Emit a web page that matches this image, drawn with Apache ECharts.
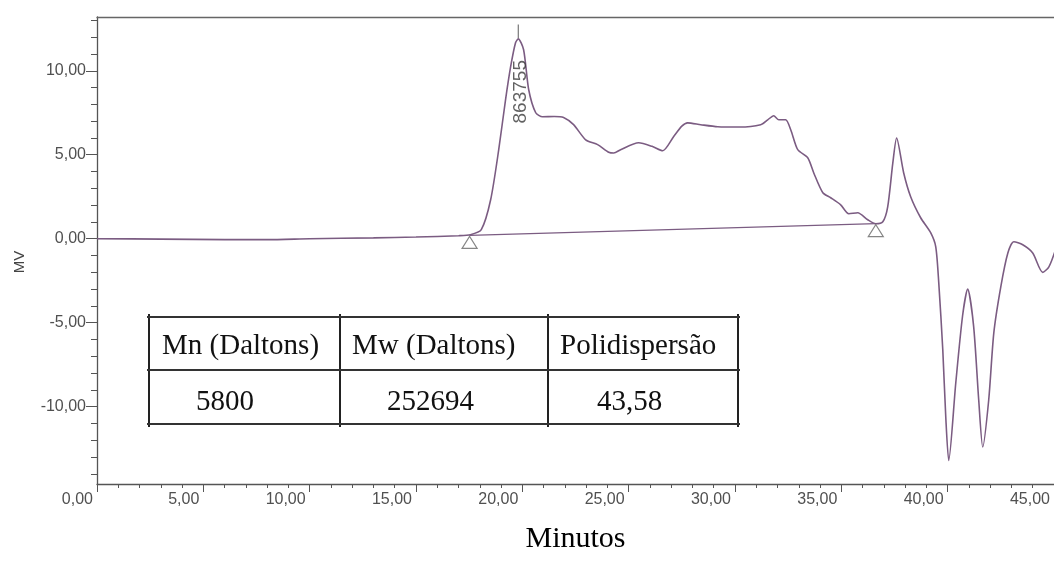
<!DOCTYPE html>
<html>
<head>
<meta charset="utf-8">
<script src="https://cdn.jsdelivr.net/npm/echarts@6/dist/echarts.min.js"></script>
<style>
  html, body { margin: 0; padding: 0; background: #fff; }
  #chart { width: 1054px; height: 570px; }
</style>
</head>
<body>
<div id="chart"></div>
<script>
var minutos = [0, 3, 6, 8, 10, 13, 15, 17, 17.56, 18.07, 18.51, 18.89, 19.21, 19.45, 19.68, 19.81,
  20.06, 20.3, 20.63, 20.95, 21.5, 21.94, 22.41, 22.98, 23.54, 24.06, 24.3, 24.62, 25.47, 26.1,
  26.6, 27.11, 27.5, 27.77, 28.39, 29.19, 30.2, 31.21, 31.54, 31.82, 32.06, 32.38, 32.62, 32.95,
  33.42, 33.7, 34.13, 34.5, 34.97, 35.35, 35.77, 36.24, 36.62, 36.95, 37.18, 37.42, 37.6, 37.93,
  38.26, 38.73, 39.2, 39.44, 39.58, 39.77, 39.91, 40.05, 40.38, 40.7, 40.94, 41.22, 41.46, 41.65,
  41.93, 42.17, 42.5, 42.83, 43.11, 43.53, 44.0, 44.47, 44.76, 45.04];
var mv = [0, -0.02, -0.05, -0.05, 0, 0.05, 0.1, 0.18, 0.24, 0.54, 2.32, 5.3, 8.27, 10.24, 11.67, 11.9,
  11.25, 8.87, 7.5, 7.26, 7.28, 7.22, 6.79, 5.89, 5.6, 5.15, 5.1, 5.3, 5.71, 5.5,
  5.24, 6.07, 6.7, 6.9, 6.79, 6.67, 6.65, 6.79, 7.08, 7.32, 7.08, 7.08, 6.49, 5.3,
  4.82, 3.93, 2.74, 2.44, 2.02, 1.49, 1.55, 1.13, 0.89, 1.01, 1.9, 4.5, 6.0, 3.93,
  2.5, 1.25, 0.36, -0.48, -2.6, -6.6, -10.6, -13.2, -8.6, -4.6, -3.0, -5.2, -9.6, -12.4,
  -9.6, -5.6, -2.85, -0.85, -0.18, -0.36, -0.85, -2.0, -1.67, -0.77];

// linha de base da integração
var baseX = [17.52, 36.62];
var baseY = [0.2, 0.9];

// pico marcado
var picoX = 19.81;
var picoY = 11.9;
var picoTexto = '863755';

var yMajor = [-10, -5, 0, 5, 10];
var yMinor = [-14, -13, -12, -11, -10, -9, -8, -7, -6, -5, -4, -3, -2, -1, 0,
  1, 2, 3, 4, 5, 6, 7, 8, 9, 10, 11, 12, 13];

// tabela
var cabecalho = ['Mn (Daltons)', 'Mw (Daltons)', 'Polidispersão'];
var valores = ['5800', '252694', '43,58'];

function fmt(v) {
  return v.toFixed(2).replace('.', ',');
}

var chart = echarts.init(document.getElementById('chart'));

var corLinha = '#7b5c82';
var corEixo = '#555';
var corTexto = '#505050';

var sinal = minutos.map(function (t, i) { return [t, mv[i]]; });
var base = baseX.map(function (t, i) { return [t, baseY[i]]; });

// células da tabela
var colX = [149, 340, 548, 738];
var rowY = [317, 370, 424];
var textoX1 = [162, 352, 560];
var textoX2 = [196, 387, 597];
var fonteTab = '29px "Liberation Serif"';
var tabela = [];
colX.forEach(function (x) {
  tabela.push({ type: 'line', shape: { x1: x, y1: rowY[0] - 3, x2: x, y2: rowY[2] + 3 },
    style: { stroke: '#222', lineWidth: 2 } });
});
rowY.forEach(function (y) {
  tabela.push({ type: 'line', shape: { x1: colX[0] - 2, y1: y, x2: colX[3] + 2, y2: y },
    style: { stroke: '#333', lineWidth: 2 } });
});
cabecalho.forEach(function (t, i) {
  tabela.push({ type: 'text', x: textoX1[i], y: 346,
    style: { text: t, fill: '#111', font: fonteTab, textVerticalAlign: 'middle' } });
});
valores.forEach(function (t, i) {
  tabela.push({ type: 'text', x: textoX2[i], y: 402,
    style: { text: t, fill: '#111', font: fonteTab, textVerticalAlign: 'middle' } });
});
tabela.push({ type: 'text', x: 20, y: 262, rotation: Math.PI / 2,
  style: { text: 'MV', fill: '#444', font: '15px "Liberation Sans"', align: 'center', verticalAlign: 'middle' } });

chart.setOption({
  backgroundColor: '#fff',
  animation: false,
  grid: { left: 97, right: 0, top: 17, bottom: 86 },
  xAxis: [
    {
      type: 'value',
      min: 0,
      max: 45,
      interval: 5,
      name: 'Minutos',
      nameLocation: 'middle',
      nameGap: 40,
      nameTextStyle: { fontFamily: 'Liberation Serif', fontSize: 30, color: '#000' },
      axisLine: { show: true, onZero: false, lineStyle: { color: corEixo, width: 1.3 } },
      axisTick: { show: true, length: 8, lineStyle: { color: corEixo } },
      minorTick: { show: true, splitNumber: 5, length: 4, lineStyle: { color: corEixo } },
      splitLine: { show: false },
      axisLabel: {
        formatter: fmt, align: 'right', margin: 8, padding: [0, 4, 0, 0],
        fontFamily: 'Liberation Sans', fontSize: 16, color: corTexto
      }
    },
    {
      type: 'value', position: 'top', min: 0, max: 45,
      axisLine: { show: true, onZero: false, lineStyle: { color: '#666', width: 1.3 } },
      axisTick: { show: false }, axisLabel: { show: false }, splitLine: { show: false }
    }
  ],
  yAxis: [
    {
      type: 'value',
      min: -14.6,
      max: 13.2,
      axisLine: { show: true, onZero: false, lineStyle: { color: corEixo, width: 1.3 } },
      axisTick: { show: true, length: 11, customValues: yMajor, lineStyle: { color: corEixo } },
      splitLine: { show: false },
      axisLabel: {
        customValues: yMajor, formatter: fmt, margin: 11,
        fontFamily: 'Liberation Sans', fontSize: 16, color: corTexto
      }
    },
    {
      type: 'value', position: 'left', min: -14.6, max: 13.2,
      axisLine: { show: false, onZero: false },
      axisTick: { show: true, length: 6, customValues: yMinor, lineStyle: { color: corEixo } },
      axisLabel: { show: false }, splitLine: { show: false }
    }
  ],
  series: [
    {
      type: 'line',
      data: sinal,
      smooth: 0.25,
      showSymbol: false,
      lineStyle: { color: corLinha, width: 1.6 },
      z: 3
    },
    {
      type: 'line',
      data: base,
      showSymbol: false,
      lineStyle: { color: corLinha, width: 1.3 },
      z: 2
    },
    {
      type: 'scatter',
      data: base,
      symbol: 'triangle',
      symbolSize: [15, 12],
      symbolOffset: [0, 7],
      itemStyle: { color: '#fff', borderColor: '#666', borderWidth: 1.2 },
      z: 4
    },
    {
      type: 'line',
      data: [[picoX, picoY + 0.05], [picoX, picoY + 0.85]],
      showSymbol: false,
      lineStyle: { color: '#777', width: 1.2 },
      z: 2
    },
    {
      type: 'scatter',
      data: [[picoX + 0.11, 8.75]],
      symbolSize: 0,
      label: {
        show: true, position: 'inside', rotate: 90, formatter: picoTexto,
        fontFamily: 'Liberation Sans', fontSize: 19, color: '#3a3a3a'
      },
      z: 5
    }
  ],
  graphic: tabela
});
</script>
</body>
</html>
